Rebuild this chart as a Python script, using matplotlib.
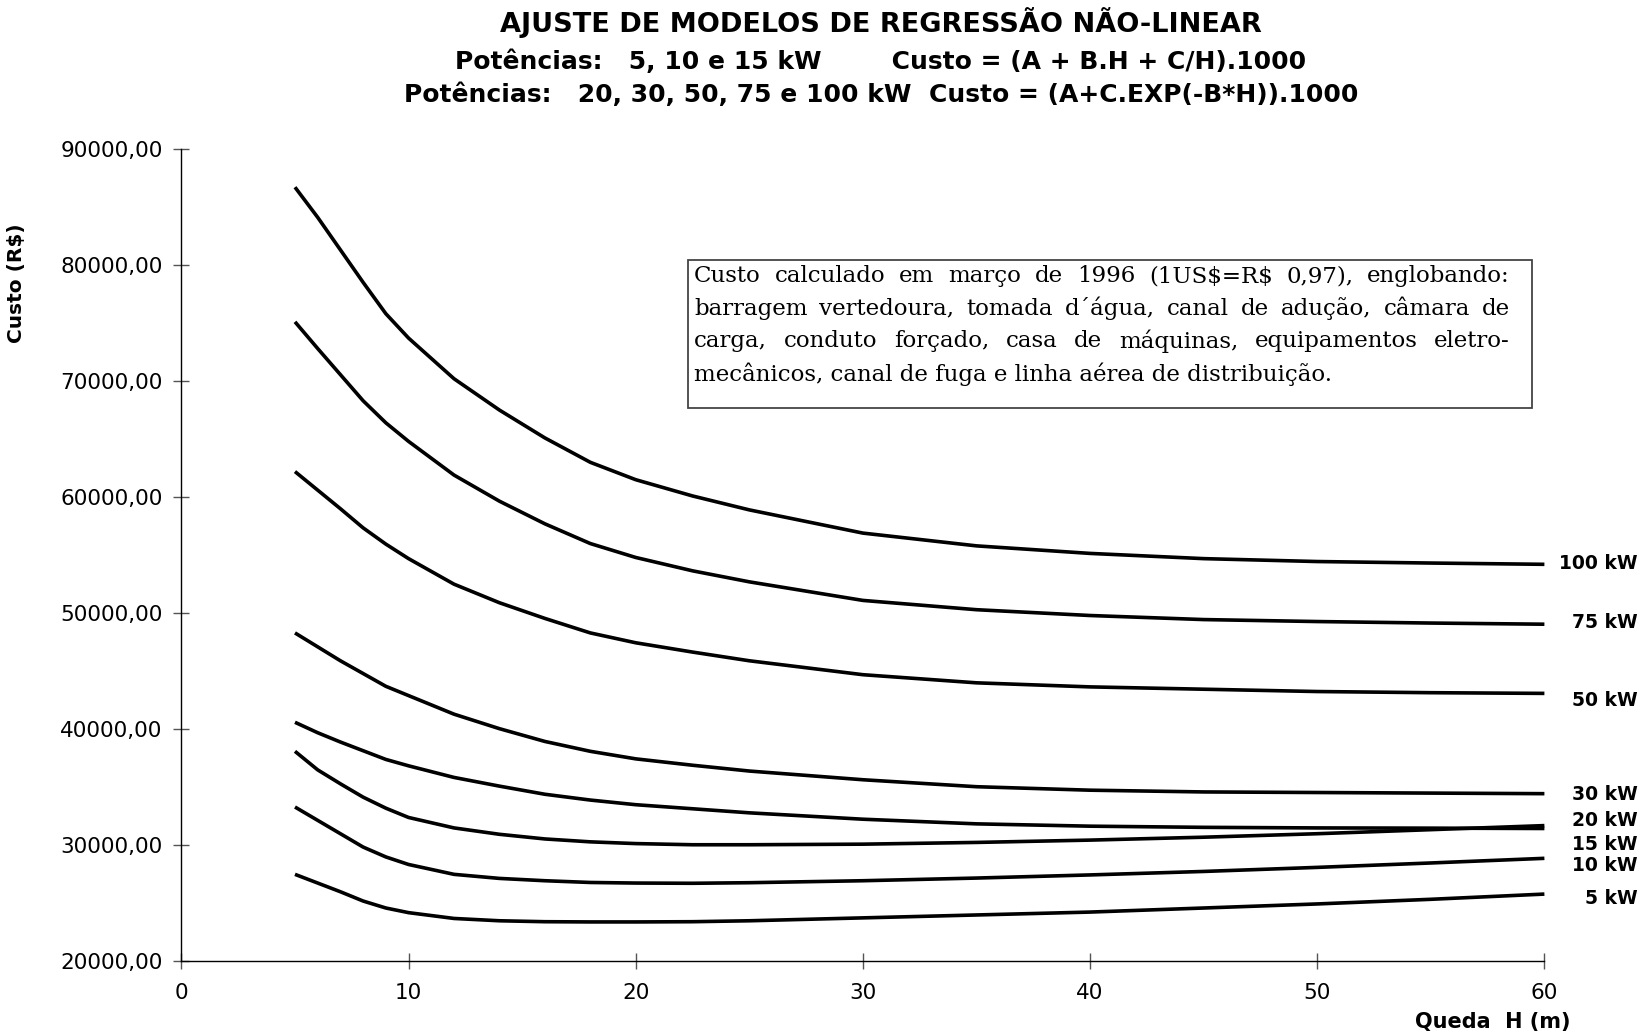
import numpy as np
import matplotlib
matplotlib.use('Agg')
import matplotlib.pyplot as plt
from matplotlib.patches import Rectangle
from matplotlib.ticker import FuncFormatter

plt.rcParams['font.family'] = ['DejaVu Sans']

# queda H (m)
queda = [5, 6, 7, 8, 9, 10, 12, 14, 16, 18, 20, 22.5, 25, 30, 35, 40, 45, 50, 55, 60]

# custo (R$) por potencia
custo_100 = [86700, 84100, 81300, 78500, 75800, 73700, 70200, 67500, 65100, 63000, 61500,
             60100, 58900, 56900, 55800, 55150, 54700, 54450, 54320, 54210]
custo_75 = [75100, 72800, 70550, 68300, 66400, 64800, 61900, 59650, 57700, 56000, 54800,
            53650, 52700, 51100, 50300, 49800, 49450, 49280, 49150, 49050]
custo_50 = [62200, 60600, 59000, 57350, 55950, 54700, 52500, 50900, 49550, 48300, 47450,
            46650, 45900, 44700, 44000, 43650, 43450, 43250, 43150, 43090]
custo_30 = [48300, 47100, 45900, 44800, 43700, 42900, 41300, 40050, 38950, 38100, 37450,
            36900, 36400, 35650, 35050, 34750, 34600, 34550, 34500, 34450]
custo_20 = [40600, 39700, 38900, 38150, 37400, 36850, 35850, 35100, 34400, 33900, 33500,
            33150, 32800, 32250, 31850, 31650, 31550, 31500, 31480, 31450]
custo_15 = [38100, 36500, 35300, 34150, 33200, 32400, 31500, 30950, 30550, 30300, 30150,
            30050, 30050, 30100, 30250, 30450, 30700, 31000, 31350, 31700]
custo_10 = [33300, 32150, 31000, 29850, 29000, 28350, 27500, 27150, 26950, 26800, 26750,
            26730, 26780, 26950, 27180, 27450, 27750, 28100, 28480, 28880]
custo_5 = [27500, 26750, 26000, 25200, 24600, 24200, 23700, 23500, 23420, 23400, 23400,
           23420, 23500, 23750, 24000, 24250, 24600, 24950, 25350, 25800]

series = [custo_100, custo_75, custo_50, custo_30, custo_20, custo_15, custo_10, custo_5]
rotulos = ['100 kW', '75 kW', '50 kW', '30 kW', '20 kW', '15 kW', '10 kW', '5 kW']
# altura (em R$) onde cada rotulo fica na margem direita
rotulo_y = [54320, 49240, 42520, 34340, 32100, 30030, 28300, 25460]

W, H = 1644, 1036
fig = plt.figure(figsize=(W / 100, H / 100), dpi=100)
ax = fig.add_axes([181.4 / W, 1 - 961.4 / H, 1363 / W, 812.5 / H])

for valores in series:
    ax.plot(queda, valores, color='black', lw=2.6, clip_on=False, solid_capstyle='butt')

ax.set_xlim(0, 60)
ax.set_ylim(20000, 90000)
ax.set_xticks(range(0, 61, 10))
ax.set_yticks(range(20000, 90001, 10000))
ax.yaxis.set_major_formatter(FuncFormatter(lambda v, p: f'{v:.2f}'.replace('.', ',')))
ax.spines['top'].set_visible(False)
ax.spines['right'].set_visible(False)
ax.spines['left'].set_linewidth(1.0)
ax.spines['bottom'].set_linewidth(1.0)
ax.tick_params(direction='inout', length=11, width=1.0, color='#555555', labelsize=15.5)
ax.tick_params(axis='y', pad=8)
ax.tick_params(axis='x', pad=10)

for txt, y in zip(rotulos, rotulo_y):
    ax.text(64.1, y, txt, ha='right', va='center', fontsize=13.5, fontweight='bold', clip_on=False)

ax.set_ylabel('Custo (R$)', fontsize=14.5, fontweight='bold')
ax.yaxis.set_label_coords(-0.114, 0.835)
fig.text(1570 / W, 1 - 1022 / H, 'Queda  H (m)', ha='right', va='center', fontsize=15, fontweight='bold')

# titulo
cx = 881 / W
fig.text(cx, 1 - 23 / H, 'AJUSTE DE MODELOS DE REGRESSÃO NÃO-LINEAR', ha='center', va='center',
         fontsize=19.5, fontweight='bold')
fig.text(cx, 1 - 62 / H, 'Potências:   5, 10 e 15 kW        Custo = (A + B.H + C/H).1000', ha='center',
         va='center', fontsize=18, fontweight='bold')
fig.text(cx, 1 - 95 / H, 'Potências:   20, 30, 50, 75 e 100 kW  Custo = (A+C.EXP(-B*H)).1000', ha='center',
         va='center', fontsize=18, fontweight='bold')

# caixa de texto
fig.patches.append(Rectangle((688 / W, 1 - 408 / H), (1532 - 688) / W, (408 - 260) / H,
                             transform=fig.transFigure, fill=False, edgecolor='#444444', lw=1.3))
linhas = ['Custo calculado em março de 1996  (1US$=R$ 0,97),  englobando:',
          'barragem  vertedoura,  tomada d´água, canal de adução,  câmara  de',
          'carga,  conduto  forçado,  casa de máquinas,  equipamentos   eletro-',
          'mecânicos, canal de fuga e linha aérea de distribuição.']
serif = ['DejaVu Serif']
x0, x1 = 694, 1510
renderer = fig.canvas.get_renderer()
for i, ln in enumerate(linhas):
    yy = 1 - (276 + i * 32.7) / H
    if i == len(linhas) - 1:
        fig.text(x0 / W, yy, ln, ha='left', va='center', fontsize=16.5, family=serif, parse_math=False)
        continue
    # linhas justificadas: palavras espalhadas entre as margens da caixa
    palavras = ln.split()
    objs = [fig.text(0, yy, p, ha='left', va='center', fontsize=16.5, family=serif, parse_math=False)
            for p in palavras]
    larg = [o.get_window_extent(renderer).width for o in objs]
    gap = (x1 - x0 - sum(larg)) / (len(objs) - 1)
    xp = x0
    for o, w in zip(objs, larg):
        o.set_x(xp / W)
        xp += w + gap

fig.savefig('out.png', dpi=100)
